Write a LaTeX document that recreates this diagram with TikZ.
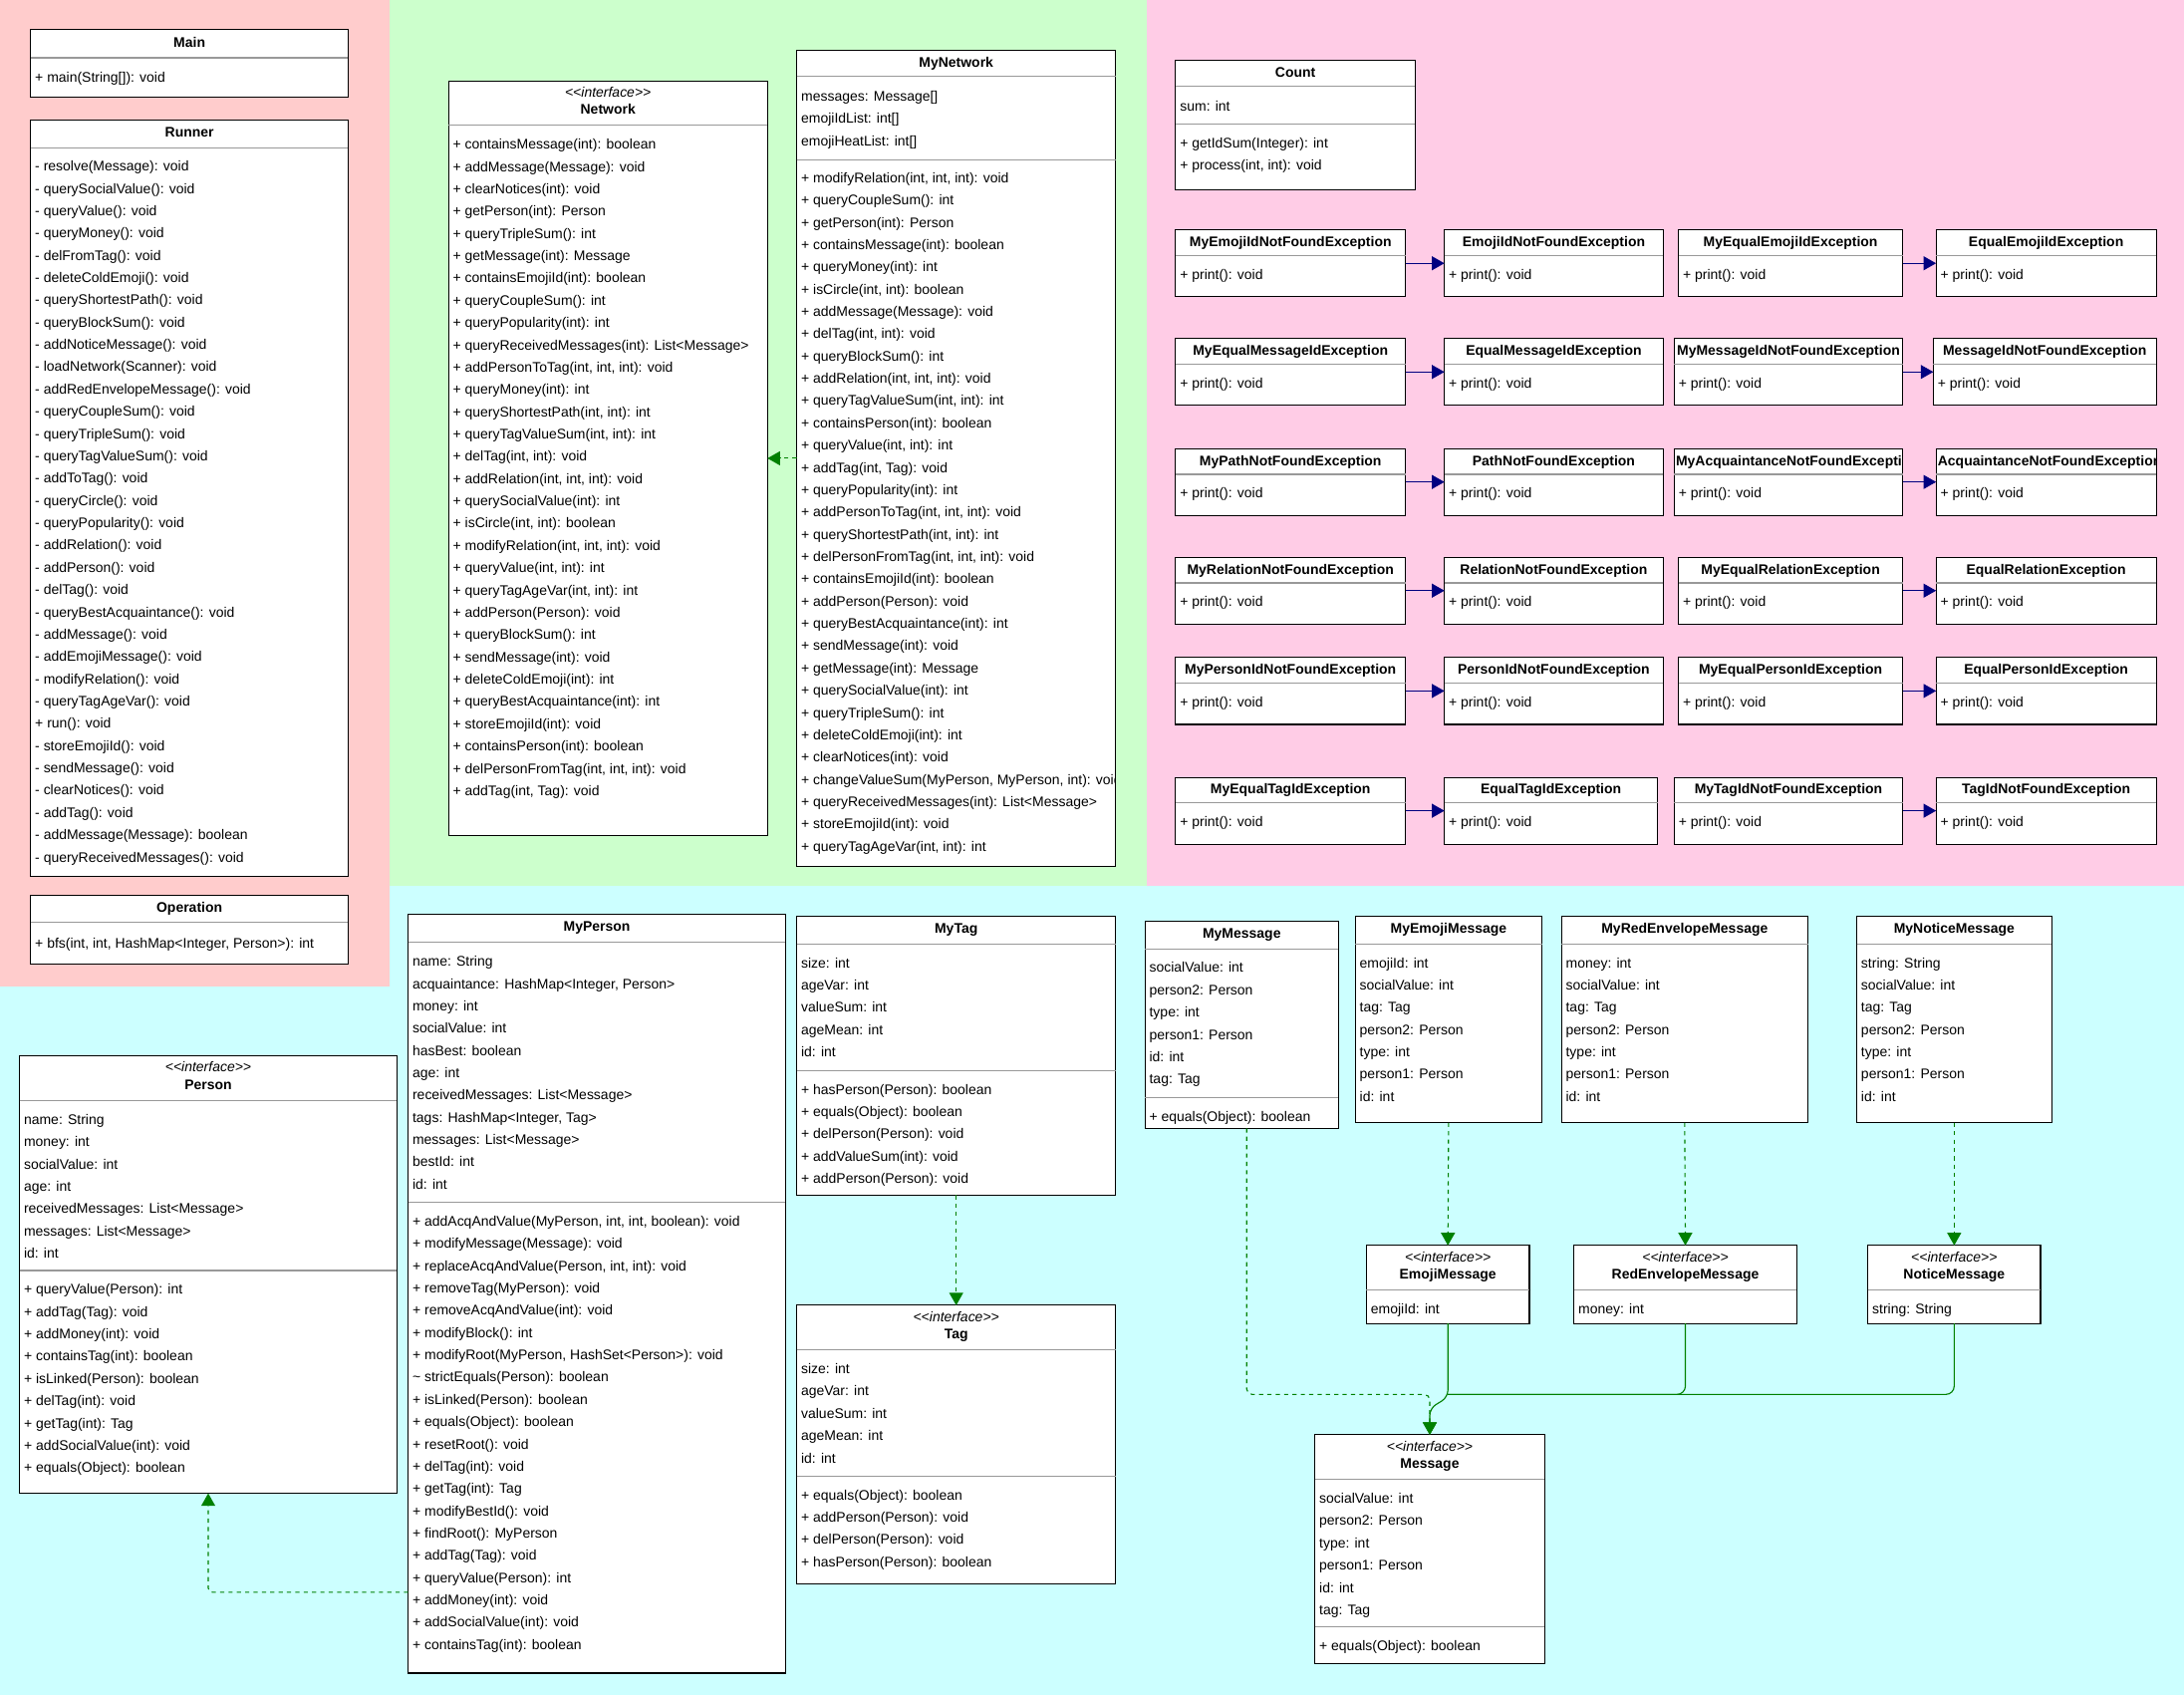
\documentclass[tikz,border=0pt]{standalone}
\usepackage{fontspec}
\setmainfont{Liberation Sans}
\usetikzlibrary{arrows.meta}
\definecolor{bgred}{HTML}{FFCCCC}
\definecolor{bggreen}{HTML}{CCFFCC}
\definecolor{bgpink}{HTML}{FFCCE6}
\definecolor{bgcyan}{HTML}{CCFFFF}
\definecolor{dgreen}{HTML}{008000}
\definecolor{navyc}{HTML}{000080}
\definecolor{sepgray}{HTML}{999999}
\tikzset{
  cbox/.style={draw=black, fill=white, line width=0.8pt, inner sep=0pt, outer sep=0pt, anchor=north west},
  itm/.style={font=\fontsize{10}{12}\selectfont, inner sep=0pt, anchor=west, text height=7.2pt, text depth=0pt},
  hdr/.style={font=\fontsize{10}{12}\selectfont\bfseries, inner sep=0pt, text height=7.2pt, text depth=0pt},
  ster/.style={font=\fontsize{10}{12}\selectfont\itshape, inner sep=0pt, text height=7.2pt, text depth=0pt},
  sepl/.style={draw=sepgray, line width=0.8pt},
  real/.style={draw=dgreen, line width=0.8pt, dash pattern=on 3pt off 3pt, -{Triangle[width=10pt,length=9pt,fill=dgreen]}},
  gen/.style={draw=dgreen, line width=0.8pt, -{Triangle[width=10pt,length=9pt,fill=dgreen]}},
  genline/.style={draw=dgreen, line width=0.8pt},
  navarr/.style={draw=navyc, line width=0.8pt, -{Triangle[width=10pt,length=9pt,fill=navyc]}},
}
\newcommand{\ubox}[5]{\node[cbox, minimum width={#4-#2}, minimum height={#5-#3}] (#1) at (#2,#3) {};}
\newcommand{\uhead}[3]{\node[hdr] (#1h) at (#1.north |- 0,#2) {#3};}
\newcommand{\uiface}[4]{\node[ster] (#1s) at (#1.north |- 0,#2) {<{}<interface>{}>}; \node[hdr] (#1h) at (#1.north |- 0,#3) {#4};}
\newcommand{\usep}[2]{\draw[sepl] (#1.west |- 0,#2) -- (#1.east |- 0,#2);}
\newcommand{\uitems}[4]{\foreach \txt [count=\i] in {#4} {\node[itm] (#1\i) at ({#2+3},{#3+16*(\i-1)}) {\txt};}}
\newcommand{\uexc}[5]{%
  \node[cbox, minimum width={#4-#2}, minimum height=48] (#1) at (#2,#3) {};
  \node[hdr] (#1h) at (#1.north |- 0,{#3+8.5}) {#5};
  \draw[sepl] (#1.west |- 0,{#3+18.5}) -- (#1.east |- 0,{#3+18.5});
  \node[itm] (#1i) at ({#2+3},{#3+32}) {+ print(): void};}
\newcommand{\uexcL}[5]{%
  \node[cbox, minimum width={#4-#2}, minimum height=48] (#1) at (#2,#3) {};
  \begin{scope}
    \clip (#1.north west) rectangle (#1.south east);
    \node[hdr, anchor=west] (#1h) at ({#2+1},{#3+8.5}) {#5};
  \end{scope}
  \draw[sepl] (#1.west |- 0,{#3+18.5}) -- (#1.east |- 0,{#3+18.5});
  \node[itm] (#1i) at ({#2+3},{#3+32}) {+ print(): void};}

\begin{document}
\begin{tikzpicture}[x=1pt, y=-1pt]
\useasboundingbox (0,0) rectangle (1568,1217);
% backgrounds
\fill[bgcyan] (0,0) rectangle (1568,1217);
\fill[bgred] (0,0) rectangle (280,708);
\fill[bggreen] (280,0) rectangle (823,636);
\fill[bgpink] (823,0) rectangle (1568,636);

% Main
\ubox{main}{22}{21}{250}{70}
\uhead{main}{30.5}{Main}
\usep{main}{41.5}
\uitems{mainm}{22}{55.3}{{+ main(String[]): void}}

% Runner
\ubox{runner}{22}{86}{250}{629}
\uhead{runner}{94.6}{Runner}
\usep{runner}{106}
\uitems{runm}{22}{119.2}{{- resolve(Message): void},{- querySocialValue(): void},{- queryValue(): void},{- queryMoney(): void},{- delFromTag(): void},{- deleteColdEmoji(): void},{- queryShortestPath(): void},{- queryBlockSum(): void},{- addNoticeMessage(): void},{- loadNetwork(Scanner): void},{- addRedEnvelopeMessage(): void},{- queryCoupleSum(): void},{- queryTripleSum(): void},{- queryTagValueSum(): void},{- addToTag(): void},{- queryCircle(): void},{- queryPopularity(): void},{- addRelation(): void},{- addPerson(): void},{- delTag(): void},{- queryBestAcquaintance(): void},{- addMessage(): void},{- addEmojiMessage(): void},{- modifyRelation(): void},{- queryTagAgeVar(): void},{+ run(): void},{- storeEmojiId(): void},{- sendMessage(): void},{- clearNotices(): void},{- addTag(): void},{- addMessage(Message): boolean},{- queryReceivedMessages(): void}}

% Operation
\ubox{oper}{22}{643}{250}{692}
\uhead{oper}{651.5}{Operation}
\usep{oper}{662}
\uitems{operm}{22}{677}{{+ bfs(int, int, HashMap<Integer, Person>): int}}

% Network
\ubox{net}{322}{58}{551}{600}
\uiface{net}{66}{78.5}{Network}
\usep{net}{89.5}
\uitems{netm}{322}{103.5}{{+ containsMessage(int): boolean},{+ addMessage(Message): void},{+ clearNotices(int): void},{+ getPerson(int): Person},{+ queryTripleSum(): int},{+ getMessage(int): Message},{+ containsEmojiId(int): boolean},{+ queryCoupleSum(): int},{+ queryPopularity(int): int},{+ queryReceivedMessages(int): List<Message>},{+ addPersonToTag(int, int, int): void},{+ queryMoney(int): int},{+ queryShortestPath(int, int): int},{+ queryTagValueSum(int, int): int},{+ delTag(int, int): void},{+ addRelation(int, int, int): void},{+ querySocialValue(int): int},{+ isCircle(int, int): boolean},{+ modifyRelation(int, int, int): void},{+ queryValue(int, int): int},{+ queryTagAgeVar(int, int): int},{+ addPerson(Person): void},{+ queryBlockSum(): int},{+ sendMessage(int): void},{+ deleteColdEmoji(int): int},{+ queryBestAcquaintance(int): int},{+ storeEmojiId(int): void},{+ containsPerson(int): boolean},{+ delPersonFromTag(int, int, int): void},{+ addTag(int, Tag): void}}

% MyNetwork
\ubox{mynet}{572}{36}{801}{622}
\uhead{mynet}{44.5}{MyNetwork}
\usep{mynet}{55}
\uitems{mynetA}{572}{69}{{messages: Message[]},{emojiIdList: int[]},{emojiHeatList: int[]}}
\usep{mynet}{114.5}
\begin{scope}
\clip (mynet.north west) rectangle (mynet.south east);
\uitems{mynetm}{572}{127.5}{{+ modifyRelation(int, int, int): void},{+ queryCoupleSum(): int},{+ getPerson(int): Person},{+ containsMessage(int): boolean},{+ queryMoney(int): int},{+ isCircle(int, int): boolean},{+ addMessage(Message): void},{+ delTag(int, int): void},{+ queryBlockSum(): int},{+ addRelation(int, int, int): void},{+ queryTagValueSum(int, int): int},{+ containsPerson(int): boolean},{+ queryValue(int, int): int},{+ addTag(int, Tag): void},{+ queryPopularity(int): int},{+ addPersonToTag(int, int, int): void},{+ queryShortestPath(int, int): int},{+ delPersonFromTag(int, int, int): void},{+ containsEmojiId(int): boolean},{+ addPerson(Person): void},{+ queryBestAcquaintance(int): int},{+ sendMessage(int): void},{+ getMessage(int): Message},{+ querySocialValue(int): int},{+ queryTripleSum(): int},{+ deleteColdEmoji(int): int},{+ clearNotices(int): void},{+ changeValueSum(MyPerson, MyPerson, int): void},{+ queryReceivedMessages(int): List<Message>},{+ storeEmojiId(int): void},{+ queryTagAgeVar(int, int): int}}
\end{scope}
\draw[real] (mynet.west) -- (net.east);

% Count
\ubox{count}{844}{43}{1016}{136}
\uhead{count}{51.5}{Count}
\usep{count}{62}
\uitems{countA}{844}{76}{{sum: int}}
\usep{count}{89}
\uitems{countm}{844}{102.5}{{+ getIdSum(Integer): int},{+ process(int, int): void}}

% Exceptions
\uexc{ea1}{844}{165}{1009}{MyEmojiIdNotFoundException}
\uexc{eb1}{1037}{165}{1194}{EmojiIdNotFoundException}
\uexc{ec1}{1205}{165}{1366}{MyEqualEmojiIdException}
\uexc{ed1}{1390}{165}{1548}{EqualEmojiIdException}
\uexc{ea2}{844}{243}{1009}{MyEqualMessageIdException}
\uexc{eb2}{1037}{243}{1194}{EqualMessageIdException}
\uexc{ec2}{1202}{243}{1366}{MyMessageIdNotFoundException}
\uexc{ed2}{1388}{243}{1548}{MessageIdNotFoundException}
\uexc{ea3}{844}{322}{1009}{MyPathNotFoundException}
\uexc{eb3}{1037}{322}{1194}{PathNotFoundException}
\uexcL{ec3}{1202}{322}{1366}{MyAcquaintanceNotFoundException}
\uexcL{ed3}{1390}{322}{1548}{AcquaintanceNotFoundException}
\uexc{ea4}{844}{400}{1009}{MyRelationNotFoundException}
\uexc{eb4}{1037}{400}{1194}{RelationNotFoundException}
\uexc{ec4}{1205}{400}{1366}{MyEqualRelationException}
\uexc{ed4}{1390}{400}{1548}{EqualRelationException}
\uexc{ea5}{844}{472}{1009}{MyPersonIdNotFoundException}
\uexc{eb5}{1037}{472}{1194}{PersonIdNotFoundException}
\uexc{ec5}{1205}{472}{1366}{MyEqualPersonIdException}
\uexc{ed5}{1390}{472}{1548}{EqualPersonIdException}
\uexc{ea6}{844}{558}{1009}{MyEqualTagIdException}
\uexc{eb6}{1037}{558}{1190}{EqualTagIdException}
\uexc{ec6}{1202}{558}{1366}{MyTagIdNotFoundException}
\uexc{ed6}{1390}{558}{1548}{TagIdNotFoundException}
\foreach \r in {1,...,6} {
  \draw[navarr] (ea\r.east) -- (eb\r.west);
  \draw[navarr] (ec\r.east) -- (ed\r.west);
}

% Person
\ubox{person}{14}{758}{285}{1072}
\uiface{person}{766}{778.5}{Person}
\usep{person}{790}
\uitems{personA}{14}{803.5}{{name: String},{money: int},{socialValue: int},{age: int},{receivedMessages: List<Message>},{messages: List<Message>},{id: int}}
\usep{person}{912}
\uitems{personm}{14}{925.5}{{+ queryValue(Person): int},{+ addTag(Tag): void},{+ addMoney(int): void},{+ containsTag(int): boolean},{+ isLinked(Person): boolean},{+ delTag(int): void},{+ getTag(int): Tag},{+ addSocialValue(int): void},{+ equals(Object): boolean}}

% MyPerson
\ubox{myperson}{293}{656}{564}{1201}
\uhead{myperson}{665}{MyPerson}
\usep{myperson}{676.5}
\uitems{mypersonA}{293}{690}{{name: String},{acquaintance: HashMap<Integer, Person>},{money: int},{socialValue: int},{hasBest: boolean},{age: int},{receivedMessages: List<Message>},{tags: HashMap<Integer, Tag>},{messages: List<Message>},{bestId: int},{id: int}}
\usep{myperson}{863}
\uitems{mypersonm}{293}{876.5}{{+ addAcqAndValue(MyPerson, int, int, boolean): void},{+ modifyMessage(Message): void},{+ replaceAcqAndValue(Person, int, int): void},{+ removeTag(MyPerson): void},{+ removeAcqAndValue(int): void},{+ modifyBlock(): int},{+ modifyRoot(MyPerson, HashSet<Person>): void},{\textasciitilde{} strictEquals(Person): boolean},{+ isLinked(Person): boolean},{+ equals(Object): boolean},{+ resetRoot(): void},{+ delTag(int): void},{+ getTag(int): Tag},{+ modifyBestId(): void},{+ findRoot(): MyPerson},{+ addTag(Tag): void},{+ queryValue(Person): int},{+ addMoney(int): void},{+ addSocialValue(int): void},{+ containsTag(int): boolean}}
\draw[real, rounded corners=3pt] (myperson.west |- 0,1143) -| (person.south);

% MyTag
\ubox{mytag}{572}{658}{801}{858}
\uhead{mytag}{666.5}{MyTag}
\usep{mytag}{677.5}
\uitems{mytagA}{572}{691}{{size: int},{ageVar: int},{valueSum: int},{ageMean: int},{id: int}}
\usep{mytag}{768.5}
\uitems{mytagm}{572}{782}{{+ hasPerson(Person): boolean},{+ equals(Object): boolean},{+ delPerson(Person): void},{+ addValueSum(int): void},{+ addPerson(Person): void}}

% Tag
\ubox{tag}{572}{937}{801}{1137}
\uiface{tag}{945}{957.5}{Tag}
\usep{tag}{969}
\uitems{tagA}{572}{982.5}{{size: int},{ageVar: int},{valueSum: int},{ageMean: int},{id: int}}
\usep{tag}{1059.5}
\uitems{tagm}{572}{1073}{{+ equals(Object): boolean},{+ addPerson(Person): void},{+ delPerson(Person): void},{+ hasPerson(Person): boolean}}
\draw[real] (mytag.south) -- (tag.north);

% MyMessage
\ubox{mymsg}{822}{661}{961}{810}
\uhead{mymsg}{670}{MyMessage}
\usep{mymsg}{681.5}
\uitems{mymsgA}{822}{694.5}{{socialValue: int},{person2: Person},{type: int},{person1: Person},{id: int},{tag: Tag}}
\usep{mymsg}{788}
\uitems{mymsgm}{822}{801.5}{{+ equals(Object): boolean}}

% MyEmojiMessage
\ubox{myemo}{973}{658}{1107}{806}
\uhead{myemo}{666.5}{MyEmojiMessage}
\usep{myemo}{678}
\uitems{myemoA}{973}{691}{{emojiId: int},{socialValue: int},{tag: Tag},{person2: Person},{type: int},{person1: Person},{id: int}}

% MyRedEnvelopeMessage
\ubox{myred}{1121}{658}{1298}{806}
\uhead{myred}{666.5}{MyRedEnvelopeMessage}
\usep{myred}{678}
\uitems{myredA}{1121}{691}{{money: int},{socialValue: int},{tag: Tag},{person2: Person},{type: int},{person1: Person},{id: int}}

% MyNoticeMessage
\ubox{mynot}{1333}{658}{1473}{806}
\uhead{mynot}{666.5}{MyNoticeMessage}
\usep{mynot}{678}
\uitems{mynotA}{1333}{691}{{string: String},{socialValue: int},{tag: Tag},{person2: Person},{type: int},{person1: Person},{id: int}}

% interfaces
\ubox{emo}{981}{894}{1098}{950}
\uiface{emo}{902}{914.5}{EmojiMessage}
\usep{emo}{926}
\uitems{emoA}{981}{939.5}{{emojiId: int}}

\ubox{red}{1130}{894}{1290}{950}
\uiface{red}{902}{914.5}{RedEnvelopeMessage}
\usep{red}{926}
\uitems{redA}{1130}{939.5}{{money: int}}

\ubox{notc}{1341}{894}{1465}{950}
\uiface{notc}{902}{914.5}{NoticeMessage}
\usep{notc}{926}
\uitems{notcA}{1341}{939.5}{{string: String}}

\draw[real] (myemo.south) -- (emo.north);
\draw[real] (myred.south) -- (red.north);
\draw[real] (mynot.south) -- (notc.north);

% Message
\ubox{msg}{944}{1030}{1109}{1194}
\uiface{msg}{1038}{1050.5}{Message}
\usep{msg}{1062}
\uitems{msgA}{944}{1075.5}{{socialValue: int},{person2: Person},{type: int},{person1: Person},{id: int},{tag: Tag}}
\usep{msg}{1168}
\uitems{msgm}{944}{1181.5}{{+ equals(Object): boolean}}

\draw[real, rounded corners=4pt] (mymsg.south -| 895,0) -- (895,1001) -- (msg.north |- 0,1001) -- (msg.north);
\draw[genline, rounded corners=6pt] (notc.south) -- (notc.south |- 0,1001) -- (emo.south |- 0,1001);
\draw[genline, rounded corners=6pt] (red.south) -- (red.south |- 0,1001) -- (emo.south |- 0,1001);
\draw[gen, rounded corners=5pt] (emo.south) -- (emo.south |- 0,1003) -- (msg.north |- 0,1011) -- (msg.north);
\end{tikzpicture}
\end{document}
